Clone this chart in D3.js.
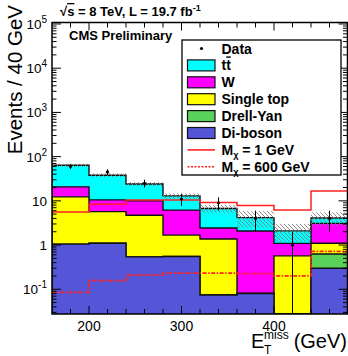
<!DOCTYPE html>
<html>
<head>
<meta charset="utf-8">
<script src="https://cdn.jsdelivr.net/npm/d3@7/dist/d3.min.js"></script>
<style>
  html, body { margin: 0; padding: 0; background: #fff; }
  svg { display: block; font-family: "Liberation Sans", Arial, Helvetica, sans-serif; }
</style>
</head>
<body>
<svg id="chart" width="348" height="356"></svg>
<script>
// Missing-ET distribution, 40 GeV bins from 160 to 480 GeV
const binLow = [160, 200, 240, 280, 320, 360, 400, 440];
const binWidth = 40;

// Background processes (events per bin), stacked bottom to top
const diboson   = [1.05, 1.1, 0.54, 0.55, 0.074, 0.08, 0, 0.30];
const drellYan  = [0, 0, 0, 0, 0, 0, 0, 0.33];
const singleTop = [11.25, 4.6, 4.2, 1.13, 1.3, 0, 0.57, 0.47];
const wJets     = [8.4, 4.8, 5.25, 4.5, 1.05, 2.0, 0.52, 2.0];
const ttbar     = [43.3, 27.5, 14.0, 6.8, 4.3, 2.1, 1.0, 1.0];
const bkgUnc    = [5, 4, 2.5, 1.8, 1.3, 1.7, 0.9, 1.4];

// Observed events
const dataCounts = [60, 45, 25, 11, 9, 4, 1, 4];

// Dark-matter signal hypotheses
const signal1   = [5.6, 8.4, 10.4, 10.4, 9.2, 7.8, 6.2, 16.8];
const signal600 = [0.085, 0.157, 0.21, 0.233, 0.233, 0.225, 0.2, 0.72];

const processNames  = ["Di-boson", "Drell-Yan", "Single top", "W", "tt"];
const processColors = ["#5555d8", "#5ad25a", "#ffff00", "#ff00ff", "#00ffff"];
const processValues = [diboson, drellYan, singleTop, wJets, ttbar];

const yTickExps = [-1, 0, 1, 2, 3, 4, 5];
const xTickLabels = [200, 300, 400];

const svg = d3.select("#chart");
const padL = 52, padR = 347.5, padT = 22.5, padB = 314;
const yMin = 0.0276, yMax = 1.08e5;

const x = d3.scaleLinear().domain([160, 480]).range([padL, 348]);
const y = d3.scaleLog().domain([yMin, yMax]).range([padB, padT]);
const yc = v => y(Math.max(v, yMin));

// Cumulative stack tops
const cumulative = [];
processValues.forEach((vals, k) => {
  cumulative.push(vals.map((v, i) => v + (k > 0 ? cumulative[k - 1][i] : 0)));
});
const total = cumulative[cumulative.length - 1];

const defs = svg.append("defs");
defs.append("clipPath").attr("id", "clip").append("rect")
  .attr("x", padL).attr("y", padT).attr("width", padR - padL).attr("height", padB - padT);
const pat = defs.append("pattern").attr("id", "hatch")
  .attr("patternUnits", "userSpaceOnUse").attr("width", 4).attr("height", 4);
pat.append("path").attr("d", "M-1,-1L5,5M-1,3L1,5M3,-1L5,1")
  .attr("stroke", "#808080").attr("stroke-width", 0.9);

const area = svg.append("g").attr("clip-path", "url(#clip)");

// Step outline of a histogram (closed to the bottom when filled)
function stepPath(vals, closed) {
  let p = "";
  vals.forEach((v, i) => {
    const x0 = x(binLow[i]), x1 = x(binLow[i] + binWidth), yy = yc(v);
    p += (i === 0 ? (closed ? `M${x0},${padB + 2}L${x0},${yy}` : `M${x0},${yy}`) : `L${x0},${yy}`);
    p += `L${x1},${yy}`;
  });
  if (closed) p += `L${x(480)},${padB + 2}Z`;
  return p;
}

// Stack: draw cumulative histograms from the largest down
for (let k = cumulative.length - 1; k >= 0; k--) {
  area.append("path")
    .attr("d", stepPath(cumulative[k], true))
    .attr("fill", processColors[k])
    .attr("stroke", "#111")
    .attr("stroke-width", 1.4);
}

// Hatched background uncertainty band
area.selectAll("rect.unc").data(total).enter().append("rect")
  .attr("class", "unc")
  .attr("x", (d, i) => x(binLow[i]))
  .attr("width", (d, i) => x(binLow[i] + binWidth) - x(binLow[i]))
  .attr("y", (d, i) => yc(d + bkgUnc[i]))
  .attr("height", (d, i) => yc(d - bkgUnc[i]) - yc(d + bkgUnc[i]))
  .attr("fill", "url(#hatch)");

// Signal histograms
area.append("path").attr("d", stepPath(signal1, false))
  .attr("fill", "none").attr("stroke", "#ff2020").attr("stroke-width", 1.5);
area.append("path").attr("d", stepPath(signal600, false))
  .attr("fill", "none").attr("stroke", "#ff2020").attr("stroke-width", 1.8)
  .attr("stroke-dasharray", "4,1.5,1.5,1.5");

// Data points with sqrt(N) errors
const dataG = area.append("g");
dataCounts.forEach((n, i) => {
  const cx = x(binLow[i] + binWidth / 2);
  const e = Math.sqrt(n);
  dataG.append("line").attr("x1", cx).attr("x2", cx)
    .attr("y1", yc(n + e)).attr("y2", n - e > 0 ? yc(n - e) : padB + 2)
    .attr("stroke", "#000").attr("stroke-width", 1);
  dataG.append("circle").attr("cx", cx).attr("cy", yc(n)).attr("r", 1.6).attr("fill", "#000");
});

// Axis ticks
const ticks = svg.append("g").attr("stroke", "#000").attr("stroke-width", 1);
d3.range(180, 480, 20).forEach(v => {
  const len = v % 100 === 0 ? 8 : 5;
  ticks.append("line").attr("x1", x(v)).attr("x2", x(v)).attr("y1", padB).attr("y2", padB - len);
  ticks.append("line").attr("x1", x(v)).attr("x2", x(v)).attr("y1", padT).attr("y2", padT + len);
});
for (let k = -2; k <= 5; k++) {
  for (let m = 1; m <= 9; m++) {
    const v = m * Math.pow(10, k);
    if (v < yMin || v > yMax) continue;
    const len = m === 1 ? 9 : 4.5;
    ticks.append("line").attr("x1", padL).attr("x2", padL + len).attr("y1", y(v)).attr("y2", y(v));
    ticks.append("line").attr("x1", padR).attr("x2", padR - len).attr("y1", y(v)).attr("y2", y(v));
  }
}

// Frame
svg.append("rect").attr("x", padL).attr("y", padT)
  .attr("width", padR - padL).attr("height", padB - padT)
  .attr("fill", "none").attr("stroke", "#000").attr("stroke-width", 1.5);

// Y tick labels
yTickExps.forEach(k => {
  const t = svg.append("text").attr("x", 47).attr("y", y(Math.pow(10, k)) + 5)
    .attr("text-anchor", "end").attr("font-size", 13.5).attr("fill", "#000");
  if (k === 0) t.text("1");
  else if (k === 1) t.text("10");
  else {
    t.append("tspan").text("10");
    t.append("tspan").attr("font-size", 10).attr("dy", -6).text(k);
  }
});

// X tick labels
xTickLabels.forEach(v => {
  svg.append("text").attr("x", x(v)).attr("y", 330.5).attr("text-anchor", "middle")
    .attr("font-size", 14).text(v);
});

// Axis titles
svg.append("text").attr("transform", "translate(22,5) rotate(-90)")
  .attr("text-anchor", "end").attr("font-size", 20.5).text("Events / 40 GeV");

svg.append("text").attr("x", 251).attr("y", 348).attr("font-size", 20).text("E");
svg.append("text").attr("x", 264).attr("y", 339).attr("font-size", 12).text("miss");
svg.append("text").attr("x", 264).attr("y", 354).attr("font-size", 12).text("T");
svg.append("text").attr("x", 347).attr("y", 348).attr("text-anchor", "end")
  .attr("font-size", 20).text("(GeV)");

// Header texts
const hdr = svg.append("text").attr("x", 60).attr("y", 16)
  .attr("font-size", 13).attr("font-weight", "bold");
hdr.append("tspan").text("√");
hdr.append("tspan").style("text-decoration", "overline").text("s");
hdr.append("tspan").text(" = 8 TeV, L = 19.7 fb");
hdr.append("tspan").attr("font-size", 9).attr("dy", -5).text("-1");

svg.append("text").attr("x", 69).attr("y", 40)
  .attr("font-size", 13).attr("font-weight", "bold").text("CMS Preliminary");

// Legend
const lg = svg.append("g");
lg.append("rect").attr("x", 182).attr("y", 40).attr("width", 159).attr("height", 135)
  .attr("fill", "#fff").attr("stroke", "#000").attr("stroke-width", 1.3);
const rowY = i => 48.5 + i * 16.9;
const textX = 221.5;
const labelStyle = t => t.attr("font-size", 14).attr("font-weight", "bold").attr("fill", "#000");

lg.append("circle").attr("cx", 201.5).attr("cy", rowY(0)).attr("r", 1.6).attr("fill", "#000");
labelStyle(lg.append("text").attr("x", textX).attr("y", rowY(0) + 5)).text("Data");

const order = [4, 3, 2, 1, 0];
order.forEach((k, j) => {
  const ry = rowY(j + 1);
  lg.append("rect").attr("x", 187.5).attr("y", ry - 5.5).attr("width", 27.5).attr("height", 11)
    .attr("fill", processColors[k]).attr("stroke", "#111").attr("stroke-width", 1.2);
  const t = labelStyle(lg.append("text").attr("x", textX).attr("y", ry + 5));
  if (k === 4) {
    t.append("tspan").text("t");
    t.append("tspan").style("text-decoration", "overline").text("t");
  } else {
    t.text(processNames[k]);
  }
});

const sigRows = [
  { mass: "1 GeV", dash: null, w: 1.6 },
  { mass: "600 GeV", dash: "2,1.5", w: 1.6 }
];
sigRows.forEach((s, j) => {
  const ry = rowY(6 + j);
  const ln = lg.append("line").attr("x1", 187.5).attr("x2", 215).attr("y1", ry).attr("y2", ry)
    .attr("stroke", "#ff2020").attr("stroke-width", s.w);
  if (s.dash) ln.attr("stroke-dasharray", s.dash);
  const t = labelStyle(lg.append("text").attr("x", textX).attr("y", ry + 5));
  t.append("tspan").text("M");
  t.append("tspan").attr("font-size", 9).attr("dy", 3).text("χ");
  t.append("tspan").attr("dy", -3).text(" = " + s.mass);
});
</script>
</body>
</html>
